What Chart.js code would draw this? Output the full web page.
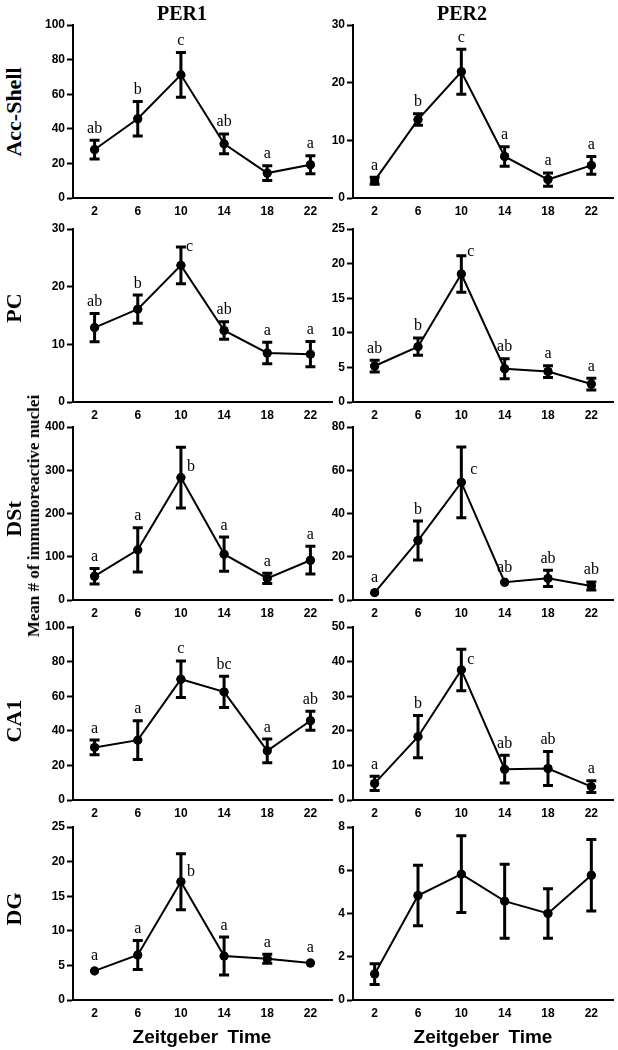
<!DOCTYPE html>
<html>
<head>
<meta charset="utf-8">
<script src="https://cdn.jsdelivr.net/npm/chart.js@4"></script>
<style>
  html, body { margin: 0; padding: 0; background: #fff; }
  body { width: 618px; height: 1050px; position: relative; overflow: hidden; }
  canvas { position: absolute; }
  .lbl { position: absolute; color: #000; white-space: pre; line-height: 1; }
  .title { font: bold 20px "Liberation Serif", "Times New Roman", serif; transform: translate(-50%, -50%); }
  .row { font: bold 22px "Liberation Serif", "Times New Roman", serif; transform: translate(-50%, -50%) rotate(-90deg); }
  .ylab { font: bold 17px "Liberation Serif", "Times New Roman", serif; transform: translate(-50%, -50%) rotate(-90deg); }
  .xlab { font: bold 19px "Liberation Sans", Arial, sans-serif; word-spacing: 4px; transform: translate(-50%, -50%); }
</style>
</head>
<body>
<script>
// ---------------- data ----------------
const zt = [2, 6, 10, 14, 18, 22];
const xTickValues = [2, 6, 10, 14, 18, 22];
const genes = ['PER1', 'PER2'];
const regions = ['Acc-Shell', 'PC', 'DSt', 'CA1', 'DG'];
const yAxisLabel = 'Mean # of immunoreactive nuclei';
const xAxisLabel = 'Zeitgeber Time';

const per1AccMean = [28.0, 45.8, 71.2, 31.3, 14.4, 19.2];
const per1AccErr  = [5.4, 10.0, 12.9, 5.7, 4.3, 5.2];
const per1AccLetters = ['ab', 'b', 'c', 'ab', 'a', 'a'];
const per2AccMean = [3.0, 13.6, 21.9, 7.2, 3.2, 5.65];
const per2AccErr  = [0.6, 1.0, 3.9, 1.7, 1.15, 1.55];
const per2AccLetters = ['a', 'b', 'c', 'a', 'a', 'a'];

const per1PcMean = [12.9, 16.1, 23.7, 12.4, 8.5, 8.3];
const per1PcErr  = [2.45, 2.45, 3.2, 1.5, 1.85, 2.2];
const per1PcLetters = ['ab', 'b', 'c', 'ab', 'a', 'a'];
const per2PcMean = [5.2, 8.0, 18.5, 4.8, 4.4, 2.6];
const per2PcErr  = [0.85, 1.25, 2.65, 1.45, 0.85, 0.85];
const per2PcLetters = ['ab', 'b', 'c', 'ab', 'a', 'a'];

const per1DstMean = [55, 116, 283, 106, 50, 92];
const per1DstErr  = [18, 51, 70, 39.5, 12, 32];
const per1DstLetters = ['a', 'a', 'b', 'a', 'a', 'a'];
const per2DstMean = [3.4, 27.5, 54.4, 8.2, 10.0, 6.5];
const per2DstErr  = [0.5, 9.0, 16.4, 0.7, 3.7, 1.85];
const per2DstLetters = ['a', 'b', 'c', 'ab', 'ab', 'ab'];

const per1Ca1Mean = [30.4, 34.6, 69.8, 62.5, 28.4, 45.8];
const per1Ca1Err  = [4.25, 11.2, 10.6, 9.1, 6.8, 5.5];
const per1Ca1Letters = ['a', 'a', 'c', 'bc', 'a', 'ab'];
const per2Ca1Mean = [4.8, 18.3, 37.6, 8.9, 9.1, 3.85];
const per2Ca1Err  = [2.05, 6.1, 6.0, 4.0, 4.9, 1.7];
const per2Ca1Letters = ['a', 'b', 'c', 'ab', 'ab', 'a'];

const per1DgMean = [4.2, 6.5, 17.1, 6.35, 5.96, 5.35];
const per1DgErr  = [0.2, 2.1, 4.05, 2.75, 0.65, 0.2];
const per1DgLetters = ['a', 'a', 'b', 'a', 'a', 'a'];
const per2DgMean = [1.2, 4.83, 5.82, 4.57, 4.0, 5.77];
const per2DgErr  = [0.48, 1.4, 1.77, 1.71, 1.15, 1.65];
const per2DgLetters = [];

const yMaxes = [[100, 30], [30, 25], [400, 80], [100, 50], [25, 8]];
const ySteps = [[20, 10], [10, 5], [100, 20], [20, 10], [5, 2]];

// ---------------- layout / style ----------------
const rowTops = [25, 229, 427, 627, 827];
const plotH = 173;
const colLefts = [73, 353];
const plotWs = [259, 260];
const Y_AXIS_W = 45, X_AXIS_H = 26, PAD_T = 12, PAD_R = 6;
// letters placed to the right of the point (style only): [row, col, index, dx, dy]
const sideLetters = [[1, 0, 2, 5, -14], [1, 1, 2, 6, -18], [2, 0, 2, 6, -7], [2, 1, 2, 9, -8], [3, 1, 2, 6, -6], [4, 0, 2, 6, -6]];

const panelData = [
  [[per1AccMean, per1AccErr, per1AccLetters], [per2AccMean, per2AccErr, per2AccLetters]],
  [[per1PcMean, per1PcErr, per1PcLetters], [per2PcMean, per2PcErr, per2PcLetters]],
  [[per1DstMean, per1DstErr, per1DstLetters], [per2DstMean, per2DstErr, per2DstLetters]],
  [[per1Ca1Mean, per1Ca1Err, per1Ca1Letters], [per2Ca1Mean, per2Ca1Err, per2Ca1Letters]],
  [[per1DgMean, per1DgErr, per1DgLetters], [per2DgMean, per2DgErr, per2DgLetters]]
];

Chart.defaults.font.family = '"Liberation Sans", Arial, sans-serif';
Chart.defaults.color = '#000';

const POINT_R = 4.5;

const errorBarPlugin = {
  id: 'errorBars',
  afterDatasetsDraw(chart, args, opts) {
    const ctx = chart.ctx, xs = chart.scales.x, ys = chart.scales.y;
    const { mean, err, letters, side } = opts;
    ctx.save();
    ctx.strokeStyle = '#000';
    ctx.lineWidth = 3;
    ctx.lineCap = 'butt';
    const tops = [];
    for (let i = 0; i < mean.length; i++) {
      const px = xs.getPixelForValue(zt[i]);
      const py = ys.getPixelForValue(mean[i]);
      const pt = ys.getPixelForValue(mean[i] + err[i]);
      const pb = ys.getPixelForValue(mean[i] - err[i]);
      if (py - pt > 2.5) {
        ctx.beginPath();
        ctx.moveTo(px, pt); ctx.lineTo(px, pb);
        ctx.moveTo(px - 5, pt); ctx.lineTo(px + 5, pt);
        ctx.moveTo(px - 5, pb); ctx.lineTo(px + 5, pb);
        ctx.stroke();
        tops.push(Math.min(pt - 1.5, py - POINT_R));
      } else {
        tops.push(py - POINT_R);
      }
    }
    // re-draw points over bars
    ctx.fillStyle = '#000';
    for (let i = 0; i < mean.length; i++) {
      ctx.beginPath();
      ctx.arc(xs.getPixelForValue(zt[i]), ys.getPixelForValue(mean[i]), POINT_R, 0, Math.PI * 2);
      ctx.fill();
    }
    // significance letters
    ctx.font = '16px "Liberation Serif", "Times New Roman", serif';
    ctx.textBaseline = 'alphabetic';
    for (let i = 0; i < letters.length; i++) {
      const px = xs.getPixelForValue(zt[i]);
      const py = ys.getPixelForValue(mean[i]);
      const s = side.find(d => d[0] === i);
      if (s) {
        ctx.textAlign = 'left';
        ctx.fillText(letters[i], px + s[1], py + s[2]);
      } else {
        ctx.textAlign = 'center';
        ctx.fillText(letters[i], px, tops[i] - 6);
      }
    }
    ctx.restore();
  }
};

function makePanel(r, c) {
  const [mean, err, letters] = panelData[r][c];
  const cv = document.createElement('canvas');
  const w = Y_AXIS_W + plotWs[c] + PAD_R;
  const h = PAD_T + plotH + X_AXIS_H;
  cv.width = w; cv.height = h;
  cv.style.left = (colLefts[c] - Y_AXIS_W) + 'px';
  cv.style.top = (rowTops[r] - PAD_T) + 'px';
  cv.style.width = w + 'px'; cv.style.height = h + 'px';
  document.body.appendChild(cv);
  const side = sideLetters.filter(d => d[0] === r && d[1] === c).map(d => [d[2], d[3], d[4]]);
  new Chart(cv, {
    type: 'scatter',
    data: {
      datasets: [{
        data: zt.map((x, i) => ({ x, y: mean[i] })),
        showLine: true,
        borderColor: '#000',
        borderWidth: 2,
        pointRadius: POINT_R,
        pointBackgroundColor: '#000',
        pointBorderWidth: 0,
        tension: 0,
        clip: false
      }]
    },
    options: {
      responsive: false,
      animation: false,
      devicePixelRatio: 1,
      layout: { padding: { top: PAD_T, right: PAD_R, left: 0, bottom: 0 } },
      plugins: {
        legend: { display: false },
        tooltip: { enabled: false },
        errorBars: { mean, err, letters, side }
      },
      scales: {
        x: {
          type: 'linear', min: 0, max: 24,
          afterBuildTicks: s => { s.ticks = xTickValues.map(v => ({ value: v })); },
          afterFit: s => { s.height = X_AXIS_H; },
          border: { display: true, color: '#000', width: 2 },
          grid: { display: false, drawOnChartArea: false, drawTicks: false },
          ticks: { font: { size: 12, weight: 'bold' }, color: '#000', padding: 6, maxRotation: 0, autoSkip: false }
        },
        y: {
          type: 'linear', min: 0, max: yMaxes[r][c],
          ticks: { stepSize: ySteps[r][c], font: { size: 12, weight: 'bold' }, color: '#000', padding: 2 },
          afterFit: s => { s.width = Y_AXIS_W; },
          border: { display: true, color: '#000', width: 2 },
          grid: { display: true, drawOnChartArea: false, drawTicks: true, tickLength: 6, tickWidth: 2, tickColor: '#000', color: '#000' }
        }
      }
    },
    plugins: [errorBarPlugin]
  });
}

for (let r = 0; r < 5; r++) for (let c = 0; c < 2; c++) makePanel(r, c);

function addLabel(cls, text, x, y) {
  const d = document.createElement('div');
  d.className = 'lbl ' + cls;
  d.textContent = text;
  d.style.left = x + 'px';
  d.style.top = y + 'px';
  document.body.appendChild(d);
}
const titleX = [182, 462];
genes.forEach((g, c) => addLabel('title', g, titleX[c], 13));
const rowLabelY = [112, 308, 519, 721, 909];
regions.forEach((t, r) => addLabel('row', t, 14, rowLabelY[r]));
addLabel('ylab', yAxisLabel, 34, 516);
const xLabelX = [202, 483];
xLabelX.forEach(x => addLabel('xlab', xAxisLabel, x, 1037));
</script>
</body>
</html>
